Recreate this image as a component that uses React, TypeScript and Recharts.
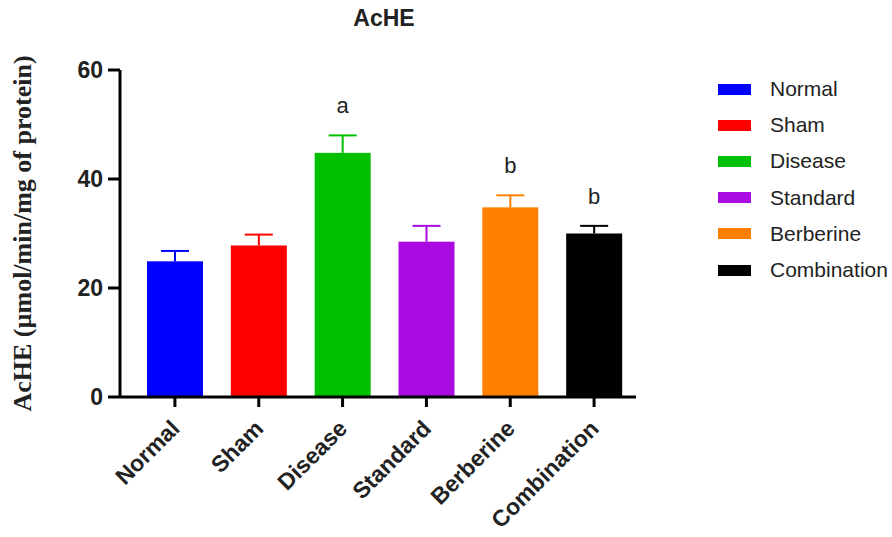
import { Bar, BarChart, Cell, XAxis, YAxis } from "recharts";

const groups = ["Normal", "Sham", "Disease", "Standard", "Berberine", "Combination"];
const means = [24.9, 27.8, 44.8, 28.5, 34.8, 30.0];
const sems = [1.9, 2.0, 3.2, 2.9, 2.2, 1.4];
const sigLetters = ["", "", "a", "", "b", "b"];
const colors = ["#0000FF", "#FF0000", "#00BF00", "#A90BE0", "#FF8000", "#000000"];
const yTicks = [0, 20, 40, 60];

const data = groups.map((g, i) => ({
  name: g,
  value: means[i],
  sem: sems[i],
  sig: sigLetters[i],
  color: colors[i],
}));

const SANS = "Arial, 'Liberation Sans', sans-serif";

// bar + upward-only SEM whisker in the bar's own colour, plus the letter above it
function BarWithError(props: any) {
  const { x, y, width, height, payload } = props;
  if (!payload || !payload.value) return null;
  const perUnit = height / payload.value;
  const capY = y - payload.sem * perUnit;
  const cx = x + width / 2;
  const c = payload.color;
  return (
    <g>
      <rect x={x} y={y} width={width} height={height} fill={c} />
      <line x1={cx} x2={cx} y1={y} y2={capY} stroke={c} strokeWidth={2} />
      <line x1={cx - 14} x2={cx + 14} y1={capY} y2={capY} stroke={c} strokeWidth={2} />
      {payload.sig ? (
        <text x={cx} y={capY - 22} textAnchor="middle" fontFamily={SANS} fontSize={22} fill="#222">
          {payload.sig}
        </text>
      ) : null}
    </g>
  );
}

function XTick(props: any) {
  const { x, y, payload } = props;
  return (
    <g transform={`translate(${x + 6},${y + 21})`}>
      <text
        transform="rotate(-45)"
        textAnchor="end"
        fontFamily={SANS}
        fontWeight="bold"
        fontSize={23}
        fill="#222"
      >
        {payload.value}
      </text>
    </g>
  );
}

function YLabel(props: any) {
  const { viewBox } = props;
  const cx = 22;
  const cy = viewBox.y + viewBox.height / 2;
  return (
    <text
      x={cx}
      y={cy}
      transform={`rotate(-90, ${cx}, ${cy})`}
      textAnchor="middle"
      dominantBaseline="central"
      fontFamily="'Liberation Serif', 'Times New Roman', serif"
      fontWeight="bold"
      fontSize={26}
      fill="#222"
    >
      AcHE (µmol/min/mg of protein)
    </text>
  );
}

export default function App() {
  return (
    <div style={{ position: "fixed", left: 0, top: 0, width: 892, height: 537, background: "#fff" }}>
      <div
        style={{
          position: "absolute",
          left: 284,
          width: 200,
          top: 5,
          textAlign: "center",
          fontFamily: SANS,
          fontWeight: "bold",
          fontSize: 23,
          color: "#222",
        }}
      >
        AcHE
      </div>
      <BarChart
        width={892}
        height={537}
        data={data}
        margin={{ top: 70, right: 256, bottom: 0, left: 0 }}
      >
        <XAxis
          dataKey="name"
          interval={0}
          height={140}
          padding={{ left: 13, right: 0 }}
          axisLine={{ stroke: "#000", strokeWidth: 3 }}
          tickLine={{ stroke: "#000", strokeWidth: 3 }}
          tickSize={10}
          tick={<XTick />}
        />
        <YAxis
          width={120}
          domain={[0, 60]}
          ticks={yTicks}
          axisLine={{ stroke: "#000", strokeWidth: 3 }}
          tickLine={{ stroke: "#000", strokeWidth: 3 }}
          tickSize={12}
          tickMargin={5}
          tick={{ fontFamily: SANS, fontWeight: "bold", fontSize: 23, fill: "#222" }}
          label={<YLabel />}
        />
        <Bar dataKey="value" barSize={56} shape={<BarWithError />} isAnimationActive={false}>
          {data.map((d) => (
            <Cell key={d.name} fill={d.color} />
          ))}
        </Bar>
      </BarChart>
      <div style={{ position: "absolute", left: 718, top: 71 }}>
        {groups.map((g, i) => (
          <div key={g} style={{ display: "flex", alignItems: "center", height: 36.2 }}>
            <div style={{ width: 33, height: 11, background: colors[i] }} />
            <span
              style={{
                marginLeft: 19,
                fontFamily: SANS,
                fontSize: 21,
                color: "#222",
                whiteSpace: "nowrap",
              }}
            >
              {g}
            </span>
          </div>
        ))}
      </div>
    </div>
  );
}
